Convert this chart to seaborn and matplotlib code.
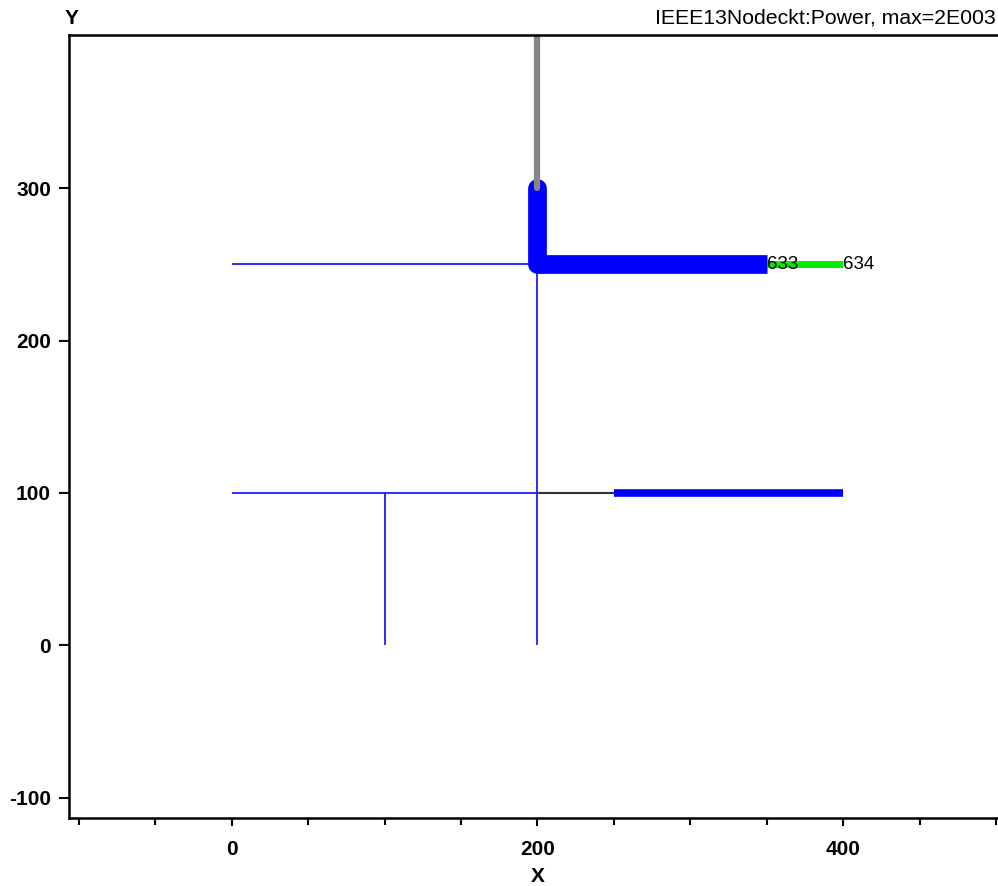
# Circuit plot of the IEEE 13 node feeder, line width shows power flow.

import matplotlib
matplotlib.use("Agg")

import matplotlib.pyplot as plt
import pandas as pd
import seaborn as sns
from matplotlib.ticker import MultipleLocator

sns.set_theme(style="ticks")
plt.rcParams["font.family"] = ["Liberation Sans", "DejaVu Sans"]
plt.rcParams["axes.unicode_minus"] = False

# bus coordinates
busNames = ["SourceBus", "650", "RG60", "632", "633", "634", "645", "646",
            "670", "671", "680", "684", "611", "652", "692", "675"]
busX = [200, 200, 200, 200, 350, 400, 100, 0, 200, 200, 200, 100, 0, 100, 250, 400]
busY = [400, 350, 300, 250, 250, 250, 250, 250, 200, 100, 0, 100, 100, 0, 100, 100]

# branches: from bus, to bus, what kind of branch (drives colour / width)
branchFrom = ["632", "645", "632", "670", "671", "671", "684", "684",
              "671", "692", "633", "RG60", "632", "SourceBus", "650"]
branchTo = ["645", "646", "670", "671", "680", "684", "611", "652",
            "692", "675", "634", "632", "633", "650", "RG60"]
branchKind = ["light", "light", "light", "light", "light", "light", "light", "light",
              "switch", "medium", "transformer", "heavyRiser", "heavy", "source", "source"]

# labelled buses
labelBuses = ["633", "634"]

# y ticks shown on the left axis
yTicks = [-100, 0, 100, 200, 300]

styles = {
    "light": dict(color="#0000ff", linewidth=1.15, solid_capstyle="butt"),
    "switch": dict(color="#333333", linewidth=1.5, solid_capstyle="butt"),
    "medium": dict(color="#0000ff", linewidth=5.5, solid_capstyle="butt"),
    "transformer": dict(color="#00ee00", linewidth=5.0, solid_capstyle="butt"),
    "heavyRiser": dict(color="#0000ff", linewidth=13.5, solid_capstyle="round"),
    "heavy": dict(color="#0000ff", linewidth=13.5, solid_capstyle="butt"),
    "source": dict(color="#858585", linewidth=4.5, solid_capstyle="round"),
}
drawOrder = ["light", "switch", "transformer", "medium", "heavy", "heavyRiser", "source"]

coords = pd.DataFrame({"x": busX, "y": busY}, index=busNames)

fig = plt.figure(figsize=(9.98, 8.86), dpi=100)
ax = fig.add_axes([69 / 998, 1 - 818 / 886, (998 - 69) / 998, (818 - 35) / 886])

for kind in drawOrder:
    for start, end, k in zip(branchFrom, branchTo, branchKind):
        if k != kind:
            continue
        seg = pd.DataFrame({
            "x": [coords.loc[start, "x"], coords.loc[end, "x"]],
            "y": [coords.loc[start, "y"], coords.loc[end, "y"]],
        })
        sns.lineplot(data=seg, x="x", y="y", estimator=None, sort=False,
                     ax=ax, **styles[kind])

for bus in labelBuses:
    ax.text(coords.loc[bus, "x"], coords.loc[bus, "y"], bus, fontsize=13.5,
            ha="left", va="center", color="black", zorder=10)

ax.set_xlim(-106.5, 501.3)
ax.set_ylim(-113.4, 400.6)

ax.xaxis.set_major_locator(MultipleLocator(200))
ax.xaxis.set_minor_locator(MultipleLocator(50))
ax.set_yticks(yTicks)
ax.tick_params(axis="x", which="major", length=6, width=1.5, labelsize=15, pad=10,
               colors="black")
ax.tick_params(axis="x", which="minor", length=5, width=1.5, colors="black")
ax.tick_params(axis="y", which="major", length=7, width=1.5, labelsize=15, pad=6,
               colors="black")
for label in ax.get_xticklabels() + ax.get_yticklabels():
    label.set_fontweight("bold")

ax.set_xlabel("")
ax.set_ylabel("")
for side in ["left", "bottom", "top"]:
    ax.spines[side].set_linewidth(1.8)
    ax.spines[side].set_color("black")
ax.spines["right"].set_visible(False)
ax.grid(False)

fig.text(538 / 998, 1 - 876 / 886, "X", fontsize=15, fontweight="bold",
         ha="center", va="center", color="black")
fig.text(72 / 998, 1 - 18 / 886, "Y", fontsize=15, fontweight="bold",
         ha="center", va="center", color="black")
fig.text(996 / 998, 1 - 18 / 886, "IEEE13Nodeckt:Power, max=2E003",
         fontsize=15.3, ha="right", va="center", color="black")

fig.savefig("out.png", dpi=100)
plt.close(fig)
